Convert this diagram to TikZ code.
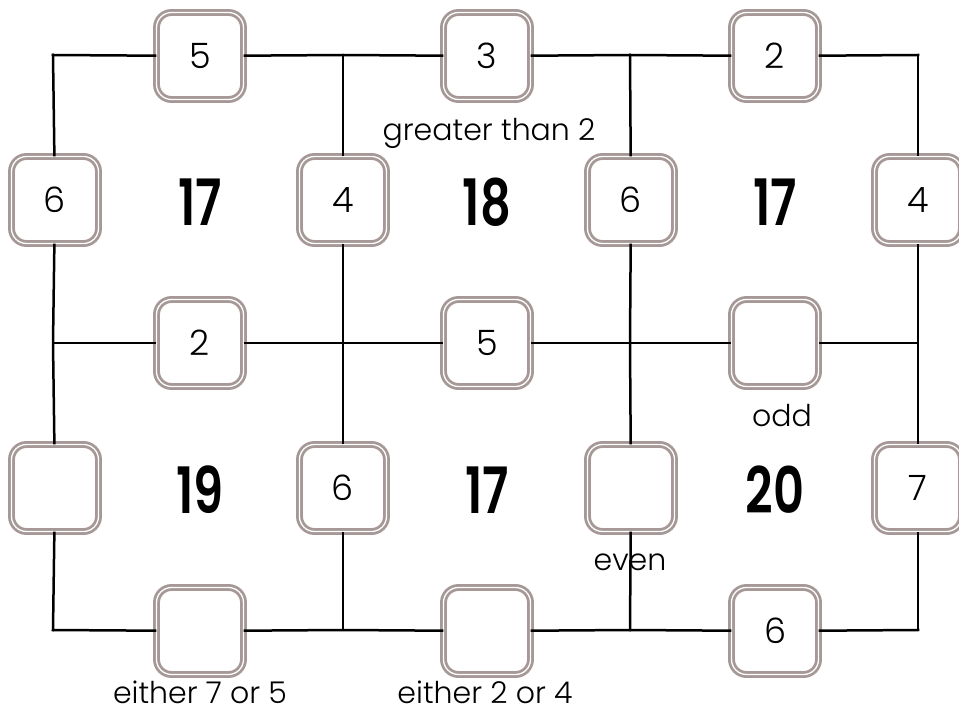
\documentclass[tikz,border=0pt]{standalone}
\usepackage{fontspec}
\setmainfont{Poppins}[UprightFont=* Light, BoldFont=* SemiBold]
\usepackage{graphicx}
\definecolor{boxgrey}{HTML}{A59896}
\tikzset{
  numbox/.style={draw=boxgrey, line width=2.8pt, double=white, double distance=1.3pt,
    fill=white, rounded corners=15pt, minimum width=87pt, minimum height=87pt,
    inner sep=0pt, font=\fontsize{35}{37}\selectfont},
  gridline/.style={line width=2.5pt, line cap=rect},
  total/.style={font=\bfseries\fontsize{64}{66}\selectfont},
  hint/.style={font=\fontsize{30}{32}\selectfont}
}
\newcommand{\narrow}[1]{\scalebox{0.75}[1]{#1}}
\begin{document}
\begin{tikzpicture}[x=1pt,y=-1pt]
\useasboundingbox (0,0) rectangle (959,719);
% grid intersections
\coordinate (c00) at (53,55);  \coordinate (c10) at (343,55);
\coordinate (c20) at (630,55); \coordinate (c30) at (918,55);
\coordinate (c01) at (53,343); \coordinate (c11) at (343,343);
\coordinate (c21) at (630,343);\coordinate (c31) at (918,343);
\coordinate (c02) at (53,630); \coordinate (c12) at (343,630);
\coordinate (c22) at (630,630);\coordinate (c32) at (918,630);
% boxes
\node[numbox] (t5) at (200,56) {5};
\node[numbox] (t3) at (487,56) {3};
\node[numbox] (t2) at (775,56) {2};
\node[numbox] (l6) at (55,200) {6};
\node[numbox] (v4) at (343,200) {4};
\node[numbox] (v6a) at (631,200) {6};
\node[numbox] (r4) at (918,200) {4};
\node[numbox] (m2) at (200,343) {2};
\node[numbox] (m5) at (487,343) {5};
\node[numbox] (modd) at (775,343) {};
\node[numbox] (lb) at (55,488) {};
\node[numbox] (v6b) at (343,488) {6};
\node[numbox] (veven) at (631,488) {};
\node[numbox] (r7) at (918,488) {7};
\node[numbox] (b1) at (200,631) {};
\node[numbox] (b2) at (487,631) {};
\node[numbox] (b6) at (775,631) {6};
% grid lines
\draw[gridline] (c00) -- (t5) -- (c10) -- (t3) -- (c20) -- (t2) -- (c30);
\draw[gridline] (c01) -- (m2) -- (c11) -- (m5) -- (c21) -- (modd) -- (c31);
\draw[gridline] (c02) -- (b1) -- (c12) -- (b2) -- (c22) -- (b6) -- (c32);
\draw[gridline] (c00) -- (l6) -- (c01) -- (lb) -- (c02);
\draw[gridline] (c10) -- (v4) -- (c11) -- (v6b) -- (c12);
\draw[gridline] (c20) -- (v6a) -- (c21) -- (veven) -- (c22);
\draw[gridline] (c30) -- (r4) -- (c31) -- (r7) -- (c32);
% cell totals
\node[total] (s1) at (200,202) {\narrow{17}};
\node[total] (s2) at (487,202) {\narrow{18}};
\node[total] (s3) at (775,202) {\narrow{17}};
\node[total] (s4) at (200,490) {\narrow{19}};
\node[total] (s5) at (487,490) {\narrow{17}};
\node[total] (s6) at (775,490) {\narrow{20}};
% hints
\node[hint] (h1) at (489,133) {greater than 2};
\node[hint] (h2) at (782,416) {odd};
\node[hint] (h3) at (630,562) {even};
\node[hint] (h4) at (200,692) {either 7 or 5};
\node[hint] (h5) at (485,692) {either 2 or 4};
\end{tikzpicture}
\end{document}
